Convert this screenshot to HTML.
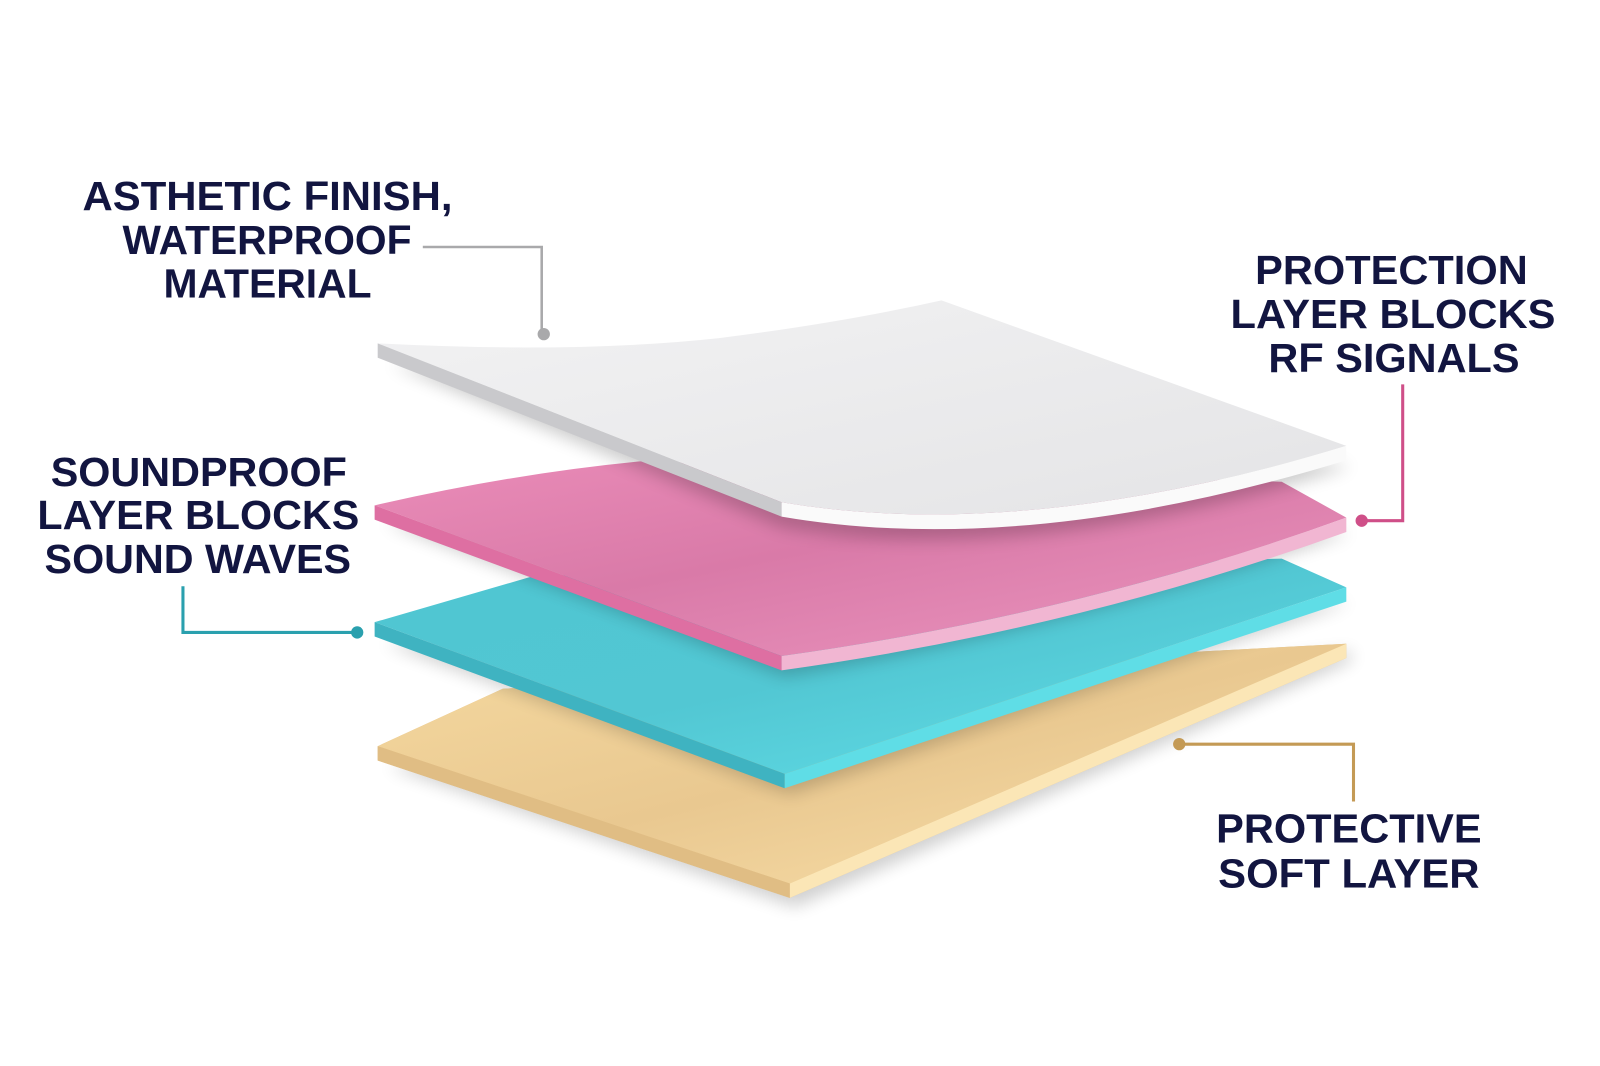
<!DOCTYPE html>
<html><head><meta charset="utf-8"><style>
html,body{margin:0;padding:0;background:#fff;width:1600px;height:1066px;overflow:hidden}
svg{display:block}
text{font-family:"Liberation Sans",Arial,sans-serif;font-weight:bold;fill:#121540;font-size:40px;text-anchor:start}
</style></head><body>
<svg width="1600" height="1066" viewBox="0 0 1560 1040" xmlns="http://www.w3.org/2000/svg">
<defs>
<filter id="sh" x="-20%" y="-20%" width="140%" height="160%"><feGaussianBlur stdDeviation="8"/></filter>
<linearGradient id="tan" x1="0" y1="0" x2="1" y2="1"><stop offset="0" stop-color="#f5d9a0"/><stop offset="0.5" stop-color="#e9c890"/><stop offset="1" stop-color="#fbe2ad"/></linearGradient>
<linearGradient id="teal" x1="0" y1="0" x2="1" y2="1"><stop offset="0" stop-color="#4fc6d2"/><stop offset="0.5" stop-color="#52c7d3"/><stop offset="1" stop-color="#63e1ea"/></linearGradient>
<linearGradient id="pink" x1="0" y1="0" x2="1" y2="1"><stop offset="0" stop-color="#ea8cb8"/><stop offset="0.45" stop-color="#d97aa8"/><stop offset="1" stop-color="#ec97c0"/></linearGradient>
<linearGradient id="white" x1="0" y1="0" x2="1" y2="1"><stop offset="0" stop-color="#f2f2f3"/><stop offset="1" stop-color="#e4e4e6"/></linearGradient>
</defs>

<!-- TAN -->
<path d="M378,748 L775,885 L1318,645 L1318,635 Z" fill="#000" opacity="0.18" filter="url(#sh)"/>
<path d="M368,728 L490,672 L1313,628 L1313,642 L770,876 L368,742 Z" fill="#e3bf84"/>
<path d="M368,728 L490,672 L1313,628 L770,862 Z" fill="url(#tan)"/>
<path d="M770,862 L1313,628 L1313,642 L770,876 Z" fill="#fbe6b6"/>
<path d="M368,728 L770,862 L770,876 L368,742 Z" fill="#e0bd84"/>

<!-- TEAL -->
<path d="M375,628 L770,775 L1318,588 Z" fill="#000" opacity="0.18" filter="url(#sh)"/>
<path d="M365,607 L520,562 L1250,545 L1313,573 L765,755 Z" fill="url(#teal)"/>
<path d="M765,755 L1313,573 L1313,587 L765,769 Z" fill="#5fdde6"/>
<path d="M365,607 L765,755 L765,769 L365,621 Z" fill="#3fb3c1"/>

<!-- PINK -->
<path d="M375,510 L765,660 Q1050,610 1318,520 Z" fill="#000" opacity="0.2" filter="url(#sh)"/>
<path d="M365,493 Q500,462 625,450 L1250,470 L1313,505 Q1050,600 762,640 Z" fill="url(#pink)"/>
<path d="M762,640 Q1050,600 1313,505 L1313,519 Q1050,614 762,654 Z" fill="#f1b6d2"/>
<path d="M365,493 L762,640 L762,654 L365,507 Z" fill="#de6fa2"/>

<!-- WHITE -->
<path d="M380,355 L762,515 Q1000,555 1318,455 Z" fill="#000" opacity="0.2" filter="url(#sh)"/>
<path d="M368,335 Q560,345 700,330 Q820,315 918,293 L1313,435 Q1000,530 762,490 Z" fill="url(#white)"/>
<path d="M762,490 Q1000,530 1313,435 L1313,449 Q1000,545 762,504 Z" fill="#fafafa"/>
<path d="M368,335 L762,490 L762,504 L368,349 Z" fill="#c9c9cc"/>

<!-- connectors -->
<polyline points="412,241 528,241 528,326" fill="none" stroke="#a9a9ab" stroke-width="2.5"/>
<circle cx="530" cy="326" r="6" fill="#a9a9ab"/>
<polyline points="1368,375 1368,508 1328,508" fill="none" stroke="#cf4f88" stroke-width="3"/>
<circle cx="1328" cy="508" r="6" fill="#cf4f88"/>
<polyline points="178,572 178,617 348,617" fill="none" stroke="#2aa0ae" stroke-width="3"/>
<circle cx="348" cy="617" r="6" fill="#2aa0ae"/>
<polyline points="1150,726 1320,726 1320,782" fill="none" stroke="#c49a55" stroke-width="3"/>
<circle cx="1150" cy="726" r="6" fill="#c49a55"/>

<!-- labels -->
<text x="80" y="205" textLength="361" lengthAdjust="spacingAndGlyphs">ASTHETIC FINISH,</text>
<text x="119" y="248" textLength="282" lengthAdjust="spacingAndGlyphs">WATERPROOF</text>
<text x="159" y="290" textLength="203" lengthAdjust="spacingAndGlyphs">MATERIAL</text>

<text x="49" y="474" textLength="289" lengthAdjust="spacingAndGlyphs">SOUNDPROOF</text>
<text x="36" y="516" textLength="314" lengthAdjust="spacingAndGlyphs">LAYER BLOCKS</text>
<text x="43" y="559" textLength="299" lengthAdjust="spacingAndGlyphs">SOUND WAVES</text>

<text x="1224" y="277" textLength="266" lengthAdjust="spacingAndGlyphs">PROTECTION</text>
<text x="1200" y="320" textLength="317" lengthAdjust="spacingAndGlyphs">LAYER BLOCKS</text>
<text x="1237" y="363" textLength="245" lengthAdjust="spacingAndGlyphs">RF SIGNALS</text>

<text x="1186" y="822" textLength="259" lengthAdjust="spacingAndGlyphs">PROTECTIVE</text>
<text x="1188" y="866" textLength="255" lengthAdjust="spacingAndGlyphs">SOFT LAYER</text>
</svg>
</body></html>
